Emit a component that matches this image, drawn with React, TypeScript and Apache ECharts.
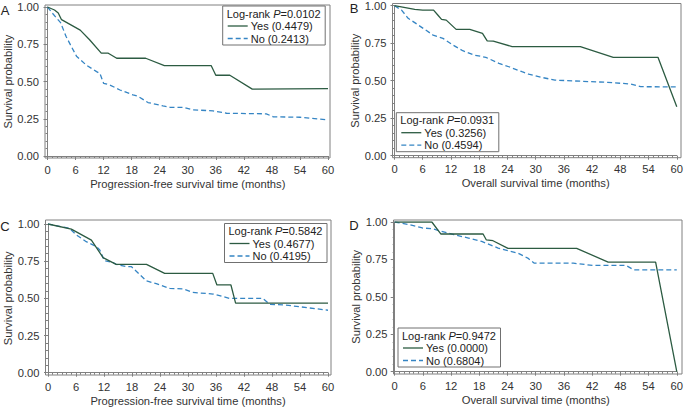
import React, { useEffect, useRef } from "react";
import * as echarts from "echarts";

// ---- Data (time in months, survival probability) ----
const xTicks = [0, 6, 12, 18, 24, 30, 36, 42, 48, 54, 60];
const yTicks = [0, 0.25, 0.5, 0.75, 1];

const aYes = [[0,1],[1.5,0.98],[2.3,0.96],[3,0.915],[5,0.88],[7,0.845],[9,0.78],[11.5,0.69],[13,0.69],[14.8,0.656],[21,0.656],[25,0.607],[35,0.607],[36,0.542],[39,0.542],[43.8,0.449],[60,0.452]];
const aNo = [[0,1],[1,0.96],[2.8,0.895],[4,0.8],[6.2,0.67],[8.3,0.61],[10.5,0.566],[11.2,0.555],[12,0.488],[13.3,0.477],[15.5,0.443],[18.3,0.41],[19.4,0.4],[21.5,0.359],[24.7,0.336],[26.2,0.327],[29,0.327],[31,0.31],[35.4,0.303],[38.3,0.287],[46.8,0.283],[48.3,0.263],[54,0.26],[60,0.243]];

const bYes = [[0,1],[4.3,0.976],[6,0.971],[8.3,0.971],[9.2,0.938],[10,0.909],[11,0.904],[13.1,0.842],[16,0.842],[18.7,0.816],[19.7,0.766],[21,0.764],[25,0.727],[39.5,0.727],[46.5,0.656],[56,0.656],[60,0.326]];
const bNo = [[0,1],[1.5,0.971],[2.9,0.916],[4.3,0.887],[6.1,0.849],[8.2,0.804],[10.3,0.782],[12.4,0.738],[14.5,0.7],[16.9,0.671],[19.4,0.656],[22.2,0.616],[24.3,0.593],[27.1,0.56],[28.5,0.544],[31.3,0.522],[34.1,0.504],[38.3,0.498],[45.3,0.489],[50.2,0.478],[52.3,0.46],[60,0.459]];

const cYes = [[0,1],[5,0.966],[9.3,0.892],[11.8,0.774],[14.6,0.729],[21.1,0.729],[25,0.668],[35.3,0.668],[36.2,0.59],[39.2,0.59],[40.2,0.468],[60,0.468]];
const cNo = [[0,1],[4.6,0.971],[6.1,0.926],[8.2,0.881],[10.4,0.847],[11.1,0.825],[12.1,0.753],[13.9,0.742],[14.6,0.729],[16.8,0.713],[17.9,0.713],[21.1,0.617],[23.2,0.599],[26.1,0.567],[29,0.563],[31,0.54],[35.4,0.529],[38.9,0.5],[46,0.5],[47.5,0.46],[51,0.455],[60,0.42]];

const dYes = [[0,1],[7.9,1],[9.8,0.92],[18.8,0.92],[19.5,0.88],[20.9,0.875],[24.1,0.824],[38.7,0.824],[45.4,0.732],[55.5,0.732],[60,0]];
const dNo = [[0,1],[3.1,0.982],[5.9,0.96],[8,0.955],[12.6,0.915],[15.7,0.893],[18.5,0.87],[22,0.826],[26.2,0.792],[28.3,0.759],[29.7,0.725],[38,0.725],[42.2,0.71],[49.2,0.71],[50.9,0.68],[60,0.68]];

const panelLetters = ["A", "B", "C", "D"];
const xTitles = [
  "Progression-free survival time (months)",
  "Overall survival time (months)",
  "Progression-free survival time (months)",
  "Overall survival time (months)",
];
const yTitle = "Survival probability";
const pValues = ["0.0102", "0.0931", "0.5842", "0.9472"];
const yesEnd = ["0.4479", "0.3256", "0.4677", "0.0000"];
const noEnd = ["0.2413", "0.4594", "0.4195", "0.6804"];
const yesSeries = [aYes, bYes, cYes, dYes];
const noSeries = [aNo, bNo, cNo, dNo];

// ---- Layout ----
const FONT = "'Liberation Sans', Arial, Helvetica, sans-serif";
const GREEN = "#2c5b42";
const BLUE = "#3585c4";
const AXIS = "#808080";
const TEXT = "#333333";

const layout = [
  { grid: { left: 47.5, top: 7, width: 280.5, height: 149 }, frame: { x: 45, y: 5, r: 330, b: 158 }, letter: [5, 10], legend: [222.7, 6] },
  { grid: { left: 394.5, top: 5.7, width: 285.2, height: 150 }, frame: { x: 392.5, y: 3.5, r: 681, b: 157.7 }, letter: [354, 8], legend: [396.3, 112.7] },
  { grid: { left: 48, top: 224, width: 280, height: 148.7 }, frame: { x: 45.5, y: 220, r: 331, b: 375 }, letter: [5, 226.5], legend: [224.5, 223.5] },
  { grid: { left: 394.7, top: 222, width: 286.3, height: 149.7 }, frame: { x: 393.5, y: 220, r: 682, b: 374 }, letter: [354, 225], legend: [398, 328] },
];

function buildOption() {
  const grids: any[] = [];
  const xAxes: any[] = [];
  const yAxes: any[] = [];
  const series: any[] = [];
  const graphics: any[] = [];

  layout.forEach((L, i) => {
    const g = L.grid;
    grids.push({ left: g.left, top: g.top, width: g.width, height: g.height, containLabel: false });
    const xOff = L.frame.b - (g.top + g.height);
    const yOff = g.left - L.frame.x;
    xAxes.push({
      type: "value",
      gridIndex: i,
      min: xTicks[0],
      max: xTicks[xTicks.length - 1],
      interval: xTicks[1] - xTicks[0],
      offset: xOff,
      axisLine: { show: true, lineStyle: { color: AXIS, width: 1 } },
      axisTick: { show: true, length: 4, lineStyle: { color: AXIS } },
      minorTick: { show: true, splitNumber: 6, length: 2, lineStyle: { color: AXIS } },
      splitLine: { show: false },
      axisLabel: { color: TEXT, fontSize: 11.2, fontFamily: FONT, margin: 6 },
      name: xTitles[i],
      nameLocation: "middle",
      nameGap: 20,
      nameTextStyle: { color: TEXT, fontSize: 11.2, fontFamily: FONT },
    });
    yAxes.push({
      type: "value",
      gridIndex: i,
      min: yTicks[0],
      max: yTicks[yTicks.length - 1],
      interval: yTicks[1] - yTicks[0],
      offset: yOff,
      axisLine: { show: true, lineStyle: { color: AXIS, width: 1 } },
      axisTick: { show: true, length: 4, lineStyle: { color: AXIS } },
      minorTick: { show: true, splitNumber: 5, length: 2, lineStyle: { color: AXIS } },
      splitLine: { show: false },
      axisLabel: {
        color: TEXT,
        fontSize: 11.2,
        fontFamily: FONT,
        margin: 6,
        formatter: (v: number) => v.toFixed(2),
      },
      name: yTitle,
      nameLocation: "middle",
      nameGap: 28,
      nameTextStyle: { color: TEXT, fontSize: 11.2, fontFamily: FONT },
    });
    series.push({
      type: "line",
      name: "Yes",
      xAxisIndex: i,
      yAxisIndex: i,
      data: yesSeries[i],
      showSymbol: false,
      symbol: "none",
      lineStyle: { color: GREEN, width: 1.3 },
      z: 3,
    });
    series.push({
      type: "line",
      name: "No",
      xAxisIndex: i,
      yAxisIndex: i,
      data: noSeries[i],
      showSymbol: false,
      symbol: "none",
      lineStyle: { color: BLUE, width: 1.3, type: [5, 3] },
      z: 2,
    });

    // frame
    graphics.push({
      type: "rect",
      shape: { x: L.frame.x, y: L.frame.y, width: L.frame.r - L.frame.x, height: L.frame.b - L.frame.y },
      style: { fill: "none", stroke: AXIS, lineWidth: 1 },
      silent: true,
      z: 1,
    });
    // panel letter
    graphics.push({
      type: "text",
      x: L.letter[0],
      y: L.letter[1],
      style: { text: panelLetters[i], fontSize: 13, fontFamily: FONT, fill: "#222", align: "center", verticalAlign: "middle" },
      z: 10,
    });
    // legend
    const [lx, ly] = L.legend;
    const lw = 102.5;
    const lh = 39;
    graphics.push({
      type: "group",
      x: lx,
      y: ly,
      z: 20,
      children: [
        {
          type: "rect",
          shape: { x: 0, y: 0, width: lw, height: lh },
          style: { fill: "#ffffff", stroke: "#707070", lineWidth: 1 },
          z: 20,
        },
        {
          type: "text",
          x: 4,
          y: 7.5,
          style: {
            text: "Log-rank {i|P}=" + pValues[i],
            fontSize: 11,
            fontFamily: FONT,
            fill: "#222",
            verticalAlign: "middle",
            rich: { i: { fontStyle: "italic", fontSize: 11, fontFamily: FONT, fill: "#222" } },
          },
          z: 21,
        },
        {
          type: "line",
          shape: { x1: 5, y1: 20, x2: 25, y2: 20 },
          style: { stroke: GREEN, lineWidth: 1.3 },
          z: 21,
        },
        {
          type: "text",
          x: 28,
          y: 20,
          style: { text: "Yes (" + yesEnd[i] + ")", fontSize: 11, fontFamily: FONT, fill: "#222", verticalAlign: "middle" },
          z: 21,
        },
        {
          type: "line",
          shape: { x1: 5, y1: 32.5, x2: 25, y2: 32.5 },
          style: { stroke: BLUE, lineWidth: 1.3, lineDash: [5, 3] },
          z: 21,
        },
        {
          type: "text",
          x: 28,
          y: 32.5,
          style: { text: "No (" + noEnd[i] + ")", fontSize: 11, fontFamily: FONT, fill: "#222", verticalAlign: "middle" },
          z: 21,
        },
      ],
    });
  });

  return {
    animation: false,
    backgroundColor: "#ffffff",
    grid: grids,
    xAxis: xAxes,
    yAxis: yAxes,
    series,
    graphic: graphics,
  };
}

export default function App() {
  const ref = useRef<HTMLDivElement>(null);
  useEffect(() => {
    if (!ref.current) return;
    const chart = echarts.init(ref.current, undefined, { renderer: "svg" });
    chart.setOption(buildOption() as any);
    return () => chart.dispose();
  }, []);
  return (
    <div
      ref={ref}
      style={{ position: "fixed", left: 0, top: 0, width: 686, height: 408, background: "#fff" }}
    />
  );
}
